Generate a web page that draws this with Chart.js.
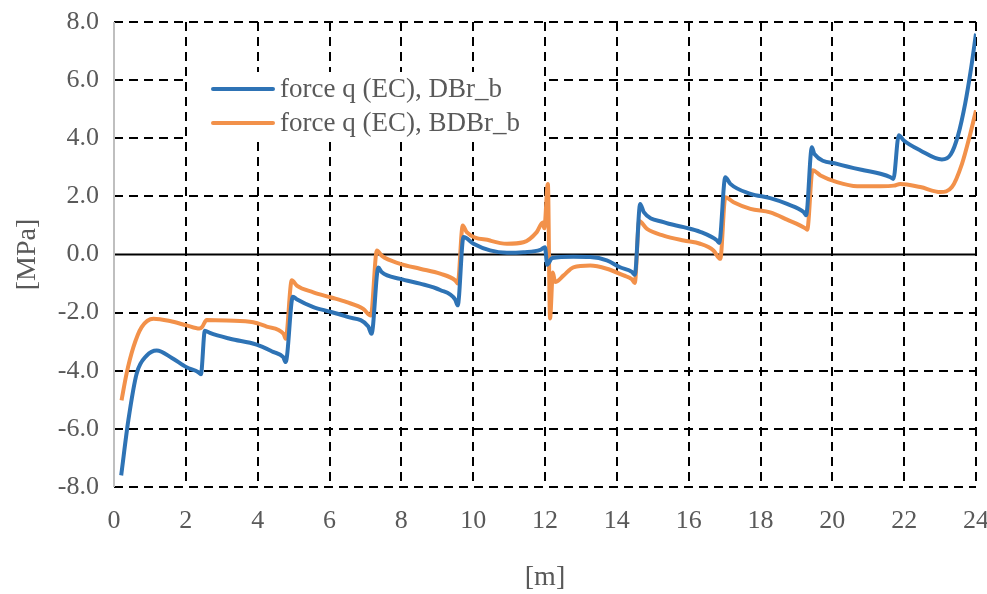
<!DOCTYPE html>
<html>
<head>
<meta charset="utf-8">
<script src="https://cdn.jsdelivr.net/npm/chart.js@4.4.1/dist/chart.umd.min.js"></script>
<style>
  html, body { margin: 0; padding: 0; background: #fff; }
  #wrap { width: 987px; height: 594px; position: relative; }
</style>
</head>
<body>
<div id="wrap"><canvas id="forceChart"></canvas></div>
<script>
// position along the girder [m] and force q [MPa]
const blueX = [0.2, 0.4, 0.63, 0.91, 1.19, 1.6, 2.02, 2.35, 2.42, 2.53, 2.67, 3.23, 3.97, 4.43, 4.71, 4.78,
  4.98, 5.1, 5.55, 6.02, 6.48, 7.08, 7.17, 7.36, 7.45, 7.97, 8.52, 9.08, 9.5, 9.57,
  9.73, 10.01, 10.47, 10.94, 11.4, 11.87, 12.0, 12.06, 12.2, 12.79, 13.26, 13.72, 14.09, 14.42, 14.5,
  14.65, 14.75, 15.3, 15.86, 16.32, 16.79, 16.85, 17.02, 17.16, 17.72, 18.27, 18.74, 19.2, 19.27,
  19.43, 19.5, 20.13, 20.87, 21.34, 21.62, 21.7, 21.85, 21.99, 22.45, 23.05, 23.3, 23.5, 23.7, 23.85, 24.0];
const blueY = [-7.6, -5.7, -4.1, -3.48, -3.3, -3.55, -3.88, -4.05, -4.12, -2.62, -2.7, -2.9, -3.1, -3.35, -3.53, -3.7,
  -1.45, -1.55, -1.81, -1.97, -2.14, -2.48, -2.73, -0.45, -0.6, -0.84, -1.0, -1.22, -1.55, -1.75,
  0.6, 0.37, 0.14, 0.06, 0.08, 0.16, 0.25, -0.35, -0.12, -0.08, -0.09, -0.2, -0.44, -0.6, -0.7,
  1.74, 1.46, 1.11, 0.94, 0.78, 0.48, 0.4, 2.66, 2.43, 2.09, 1.94, 1.74, 1.46, 1.35,
  3.69, 3.46, 3.12, 2.9, 2.78, 2.66, 2.6, 4.1, 3.92, 3.58, 3.27, 3.45, 4.1, 5.2, 6.3, 7.6];

const orangeX = [0.21, 0.35, 0.54, 0.77, 1.1, 1.56, 2.02, 2.38, 2.45, 2.58, 3.14, 3.88, 4.25, 4.72, 4.78,
  4.95, 5.09, 5.55, 6.02, 6.48, 6.94, 7.15, 7.32, 7.46, 7.97, 8.52, 9.08, 9.5, 9.57,
  9.71, 9.82, 10.47, 10.94, 11.4, 11.77, 11.94, 11.98, 12.08, 12.14, 12.22, 12.28, 12.52, 12.79, 13.26,
  13.72, 14.19, 14.42, 14.5, 14.62, 14.84, 15.3, 15.86, 16.32, 16.69, 16.88, 17.02, 17.25, 17.72,
  18.27, 18.74, 19.25, 19.3, 19.45, 19.67, 20.13, 20.69, 21.34, 21.71, 21.89, 22.45, 23.01, 23.33,
  23.61, 23.84, 24.0];
const orangeY = [-5.02, -4.1, -3.19, -2.5, -2.21, -2.29, -2.44, -2.55, -2.5, -2.25, -2.27, -2.33, -2.48, -2.73, -2.9,
  -0.89, -1.07, -1.3, -1.47, -1.64, -1.87, -2.1, 0.14, -0.05, -0.32, -0.49, -0.66, -0.89, -1.0,
  1.0, 0.77, 0.48, 0.37, 0.42, 0.77, 1.1, 0.9, 2.43, -2.2, -0.62, -0.95, -0.72, -0.44, -0.38,
  -0.49, -0.72, -0.85, -0.98, 1.15, 0.88, 0.65, 0.48, 0.37, 0.14, -0.15, 1.97, 1.8, 1.57,
  1.45, 1.2, 0.9, 0.85, 2.9, 2.72, 2.49, 2.35, 2.35, 2.37, 2.43, 2.32, 2.15, 2.32,
  3.12, 4.15, 4.96];

const seriesLabels = ['force q (EC), DBr_b', 'force q (EC), BDBr_b'];

document.addEventListener('DOMContentLoaded', () => {
  const serif = "'Liberation Serif', 'Times New Roman', serif";
  const textGray = '#595959';

  const toPoints = (xs, ys) => xs.map((x, i) => ({ x: x, y: ys[i] }));

  // legend sits inside the plot on a white box, drawn by hand
  const insideLegend = {
    id: 'insideLegend',
    afterDraw(chart) {
      const ctx = chart.ctx;
      const area = chart.chartArea;
      ctx.save();
      ctx.fillStyle = '#fff';
      ctx.fillRect(area.left + 73, area.top + 50, 356, 70);
      const x0 = area.left + 99;
      let y = area.top + 67;
      ctx.font = '27px ' + serif;
      ctx.textBaseline = 'middle';
      chart.data.datasets.forEach(ds => {
        ctx.strokeStyle = ds.borderColor;
        ctx.lineWidth = 4;
        ctx.lineCap = 'round';
        ctx.beginPath();
        ctx.moveTo(x0, y);
        ctx.lineTo(x0 + 60, y);
        ctx.stroke();
        ctx.fillStyle = textGray;
        ctx.fillText(ds.label, x0 + 67, y + 1);
        y += 34;
      });
      ctx.restore();
    }
  };

  // solid zero line and grey left axis on top of the dashed grid
  const zeroLine = {
    id: 'zeroLine',
    beforeDatasetsDraw(chart) {
      const ctx = chart.ctx;
      const area = chart.chartArea;
      const y0 = chart.scales.y.getPixelForValue(0);
      ctx.save();
      ctx.strokeStyle = '#000';
      ctx.lineWidth = 2;
      ctx.beginPath();
      ctx.moveTo(area.left, y0);
      ctx.lineTo(area.right, y0);
      ctx.stroke();
      ctx.strokeStyle = '#bfbfbf';
      ctx.beginPath();
      ctx.moveTo(area.left, area.top);
      ctx.lineTo(area.left, area.bottom);
      ctx.stroke();
      ctx.restore();
    }
  };

  const forceData = {
    datasets: [{
      label: seriesLabels[0],
      data: toPoints(blueX, blueY),
      borderColor: '#2E73B5',
      borderWidth: 4,
      pointRadius: 0,
      cubicInterpolationMode: 'monotone',
      showLine: true
    }, {
      label: seriesLabels[1],
      data: toPoints(orangeX, orangeY),
      borderColor: '#F2914A',
      borderWidth: 4,
      pointRadius: 0,
      cubicInterpolationMode: 'monotone',
      showLine: true
    }]
  };

  const gridColor = ctx => (ctx.tick && ctx.tick.value === 0) ? 'rgba(0,0,0,0)' : '#000';

  const forceConfig = {
    type: 'scatter',
    data: forceData,
    options: {
      responsive: true,
      maintainAspectRatio: false,
      animation: false,
      layout: { padding: { top: 22, right: 11, left: 0, bottom: 0 } },
      scales: {
        x: {
          type: 'linear',
          min: 0,
          max: 24,
          afterFit: scale => {
            scale.height = 107;
            scale.paddingLeft = 0;
            scale.paddingRight = 0;
          },
          ticks: { stepSize: 2, color: textGray, font: { family: serif, size: 26 }, padding: 19 },
          grid: { drawTicks: false, lineWidth: 2, color: gridColor },
          border: { display: false, dash: [9, 6] },
          title: {
            display: true,
            text: '[m]',
            color: textGray,
            font: { family: serif, size: 28 },
            padding: { top: 0, bottom: 0 }
          }
        },
        y: {
          min: -8,
          max: 8,
          afterFit: scale => {
            scale.width = 114;
            scale.paddingTop = 0;
            scale.paddingBottom = 0;
          },
          ticks: {
            stepSize: 2,
            color: textGray,
            font: { family: serif, size: 26 },
            padding: 15,
            callback: v => v.toFixed(1)
          },
          grid: { drawTicks: false, lineWidth: 2, color: gridColor },
          border: { display: false, dash: [9, 6] },
          title: {
            display: true,
            text: '[MPa]',
            color: textGray,
            font: { family: serif, size: 28 },
            padding: { top: 11, bottom: 0 }
          }
        }
      },
      plugins: {
        legend: { display: false },
        tooltip: { enabled: false }
      }
    },
    plugins: [zeroLine, insideLegend]
  };

  const forceCtx = document.getElementById('forceChart').getContext('2d');
  new Chart(forceCtx, forceConfig);
});
</script>
</body>
</html>
